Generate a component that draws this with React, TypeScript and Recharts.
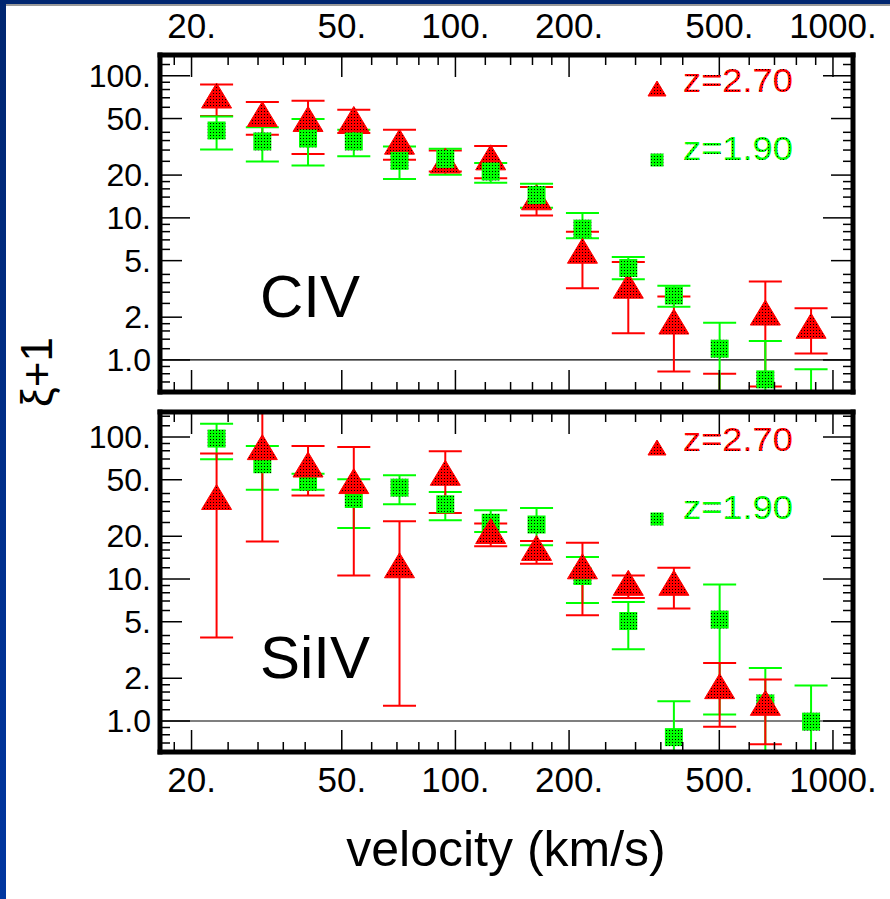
import React from 'react';
import { ScatterChart, Scatter, XAxis, YAxis, ReferenceLine } from 'recharts';

// velocity bins (km/s)
const velocity = [23.3, 30.8, 40.7, 53.8, 71.1, 94.0, 124, 164, 217, 287, 379, 501, 662, 875];

// CIV, z=2.70
const civHiZ = [69.7, 51.7, 47.7, 47.7, 33.0, 24.3, 25.6, 13.4, 5.64, 3.2, 1.79, 0.4, 2.07, 1.67];
const civHiZLo = [52, 38.4, 28.2, 39.5, 25.6, 21.2, 19.0, 10.4, 3.2, 1.54, 0.83, 0.3, 0.65, 1.11];
const civHiZHi = [86.9, 65.3, 66.7, 57.6, 41.7, 29.8, 32.1, 16.5, 8.0, 4.9, 2.8, 0.8, 3.56, 2.31];
// CIV, z=1.90
const civLoZ = [41.2, 34.5, 36.2, 34.5, 25.2, 26.0, 21.2, 14.5, 8.4, 4.44, 2.84, 1.2, 0.73, 0.45];
const civLoZLo = [30.3, 24.9, 23.4, 27.1, 18.8, 20.1, 17.7, 11.8, 7.2, 3.7, 2.37, 0.3, 0.3, 0.3];
const civLoZHi = [51.7, 43.5, 49.6, 41.7, 31.8, 30.6, 24.3, 17.4, 10.8, 5.3, 3.33, 1.83, 1.36, 0.86];

// SiIV, z=2.70
const siHiZ = [36.3, 81.5, 61.5, 47.0, 12.0, 53.8, 20.9, 15.9, 11.8, 9.03, 9.03, 1.69, 1.29, null];
const siHiZLo = [3.87, 18.4, 38.8, 10.6, 1.28, 29.2, 17.0, 12.8, 5.55, 7.35, 6.19, 0.91, 0.685, null];
const siHiZHi = [76.4, 200, 86.4, 85.0, 25.5, 79.3, 24.6, 18.5, 18.0, 10.6, 12.0, 2.56, 1.96, null];
// SiIV, z=1.90
const siLoZ = [97.5, 64.3, 48.5, 36.6, 44.0, 33.6, 24.9, 24.2, 10.5, 5.06, 0.77, 5.18, 1.33, 0.99];
const siLoZLo = [69.7, 42.6, 42.6, 22.9, 33.6, 25.9, 21.4, 17.3, 6.78, 3.2, 0.3, 1.11, 0.3, 0.3];
const siLoZHi = [124, 86.4, 55.2, 50.4, 53.8, 41.0, 30.5, 31.6, 14.3, 6.89, 1.38, 9.13, 2.36, 1.78];

const xTicks = [18, 20, 25, 30, 35, 40, 50, 60, 70, 80, 90, 100, 120, 140, 160, 180, 200, 250, 300, 350, 400, 500, 600, 700, 800, 900, 1000];
const xLabels = [20, 50, 100, 200, 500, 1000];
const yTicks = [0.6, 0.7, 0.8, 0.9, 1, 1.2, 1.4, 1.6, 1.8, 2, 2.5, 3, 3.5, 4, 5, 6, 7, 8, 9, 10, 12, 14, 16, 18, 20, 25, 30, 35, 40, 50, 60, 70, 80, 90, 100, 120, 140];
const yLabels = [1, 2, 5, 10, 20, 50, 100];
const yMajor = [1, 10, 100];

const RED = '#ff0000';
const GREEN = '#00ff00';
const FONT = '"Liberation Sans", Arial, Helvetica, sans-serif';
const CAP = 1.106; // cap half-width as a velocity factor (~16px on this log axis)

function rows(ys: (number | null)[], los: (number | null)[], his: (number | null)[]) {
  return velocity
    .map((v, i) => ({ v, y: ys[i], lo: los[i], hi: his[i] }))
    .filter(d => d.y != null) as { v: number; y: number; lo: number; hi: number }[];
}

const Triangle = (p: any) => {
  const { cx, cy } = p;
  return (
    <polygon
      points={`${cx},${cy - 15} ${cx - 15},${cy + 10} ${cx + 15},${cy + 10}`}
      fill="url(#redDots)"
      stroke={RED}
      strokeWidth={1}
    />
  );
};

const Square = (p: any) => {
  const { cx, cy } = p;
  return <rect x={cx - 9} y={cy - 9} width={18} height={18} fill="url(#greenDots)" />;
};

const xTick = (side: 'top' | 'bottom', showLabel: boolean) => (p: any) => {
  const { x, y, payload } = p;
  const v = payload.value;
  const major = xLabels.includes(v);
  const len = major ? 22 : 10;
  const dir = side === 'top' ? 1 : -1;
  return (
    <g>
      <line x1={x} x2={x} y1={y} y2={y + dir * len} stroke="#000" strokeWidth={1.5} />
      {showLabel && major && (
        <text x={x} y={side === 'top' ? y - 17 : y + 40} textAnchor="middle" fontSize={35} fontFamily={FONT} fill="#000">
          {v}.
        </text>
      )}
    </g>
  );
};

const fmtY = (v: number) => (v === 1 ? '1.0' : `${v}.`);

const yTick = (side: 'left' | 'right') => (p: any) => {
  const { x, y, payload } = p;
  const v = payload.value;
  const len = yMajor.includes(v) ? 30 : yLabels.includes(v) ? 22 : 10;
  const dir = side === 'left' ? 1 : -1;
  return (
    <g>
      <line x1={x} x2={x + dir * len} y1={y} y2={y} stroke="#000" strokeWidth={1.5} />
      {side === 'left' && yLabels.includes(v) && (
        <text x={x - 9} y={y + 11} textAnchor="end" fontSize={32} fontFamily={FONT} fill="#000">
          {fmtY(v)}
        </text>
      )}
    </g>
  );
};

const frame = { stroke: '#000', strokeWidth: 5, strokeLinecap: 'square' as const };

function errorLines(data: { v: number; lo: number; hi: number }[], color: string, key: string) {
  const common = { xAxisId: 'b', yAxisId: 'l', stroke: color, strokeWidth: 2, ifOverflow: 'hidden' as const };
  return data.flatMap((d, i) => [
    <ReferenceLine key={`${key}-v${i}`} {...common} segment={[{ x: d.v, y: d.lo }, { x: d.v, y: d.hi }]} />,
    <ReferenceLine key={`${key}-l${i}`} {...common} segment={[{ x: d.v / CAP, y: d.lo }, { x: d.v * CAP, y: d.lo }]} />,
    <ReferenceLine key={`${key}-h${i}`} {...common} segment={[{ x: d.v / CAP, y: d.hi }, { x: d.v * CAP, y: d.hi }]} />,
  ]);
}

function Panel({
  height, margin, yDomain, topLabels, series,
}: {
  height: number;
  margin: any;
  yDomain: [number, number];
  topLabels: boolean;
  series: { data: any[]; kind: 'tri' | 'sq' }[];
}) {
  const ticks = yTicks.filter(t => t >= yDomain[0] && t <= yDomain[1]);
  return (
    <ScatterChart width={890} height={height} margin={margin}>
      <XAxis
        xAxisId="b" dataKey="v" type="number" scale="log" domain={[16.5, 1130]} allowDataOverflow
        orientation="bottom" height={1} ticks={xTicks} interval={0} tickSize={0} tickMargin={0}
        tickLine={false} axisLine={frame} tick={xTick('bottom', !topLabels)}
      />
      <XAxis
        xAxisId="t" dataKey="v" type="number" scale="log" domain={[16.5, 1130]} allowDataOverflow
        orientation="top" height={1} ticks={xTicks} interval={0} tickSize={0} tickMargin={0}
        tickLine={false} axisLine={frame} tick={xTick('top', topLabels)}
      />
      <YAxis
        yAxisId="l" dataKey="y" type="number" scale="log" domain={yDomain} allowDataOverflow
        orientation="left" width={1} ticks={ticks} interval={0} tickSize={0} tickMargin={0}
        tickLine={false} axisLine={frame} tick={yTick('left')}
      />
      <YAxis
        yAxisId="r" dataKey="y" type="number" scale="log" domain={yDomain} allowDataOverflow
        orientation="right" width={1} ticks={ticks} interval={0} tickSize={0} tickMargin={0}
        tickLine={false} axisLine={frame} tick={yTick('right')}
      />
      <ReferenceLine xAxisId="b" yAxisId="l" y={1} stroke="#000" strokeWidth={1.2} />
      {series.flatMap((s, i) => errorLines(s.data, s.kind === 'tri' ? RED : GREEN, `e${i}`))}
      {series.map((s, i) => (
        <Scatter
          key={i}
          xAxisId="b"
          yAxisId="l"
          data={s.data}
          dataKey="y"
          shape={s.kind === 'tri' ? Triangle : Square}
          isAnimationActive={false}
        />
      ))}
    </ScatterChart>
  );
}

function LegendBlock({ dy }: { dy: number }) {
  return (
    <g>
      <polygon points={`657,${81 + dy} 648,${96 + dy} 666,${96 + dy}`} fill="url(#redDots)" stroke={RED} strokeWidth={1} />
      <text x={683} y={92 + dy} fontSize={34} fontFamily={FONT} fill="url(#redDots)" textLength={110} lengthAdjust="spacingAndGlyphs">
        z=2.70
      </text>
      <rect x={650.5} y={153.5 + dy} width={13} height={13} fill="url(#greenDots)" />
      <text x={683} y={160 + dy} fontSize={34} fontFamily={FONT} fill="url(#greenDots)" textLength={110} lengthAdjust="spacingAndGlyphs">
        z=1.90
      </text>
    </g>
  );
}

export default function App() {
  const civRed = rows(civHiZ, civHiZLo, civHiZHi);
  const civGreen = rows(civLoZ, civLoZLo, civLoZHi);
  const siRed = rows(siHiZ, siHiZLo, siHiZHi);
  const siGreen = rows(siLoZ, siLoZLo, siLoZHi);

  return (
    <div style={{ position: 'absolute', left: 0, top: 0, width: 890, height: 899, background: '#fff', overflow: 'hidden' }}>
      <svg width={0} height={0} style={{ position: 'absolute' }}>
        <defs>
          <pattern id="redDots" width={3} height={3} patternUnits="userSpaceOnUse">
            <rect width={3} height={3} fill={RED} />
            <rect width={1} height={1} fill="#000" />
          </pattern>
          <pattern id="greenDots" width={3} height={3} patternUnits="userSpaceOnUse">
            <rect width={3} height={3} fill={GREEN} />
            <rect width={1} height={1} fill="#000" />
          </pattern>
        </defs>
      </svg>

      <div style={{ position: 'absolute', left: 0, top: 0 }}>
        <Panel
          height={400}
          margin={{ top: 54, right: 36, bottom: 7, left: 159 }}
          yDomain={[0.595, 140]}
          topLabels
          series={[{ data: civRed, kind: 'tri' }, { data: civGreen, kind: 'sq' }]}
        />
      </div>
      <div style={{ position: 'absolute', left: 0, top: 400 }}>
        <Panel
          height={499}
          margin={{ top: 11, right: 36, bottom: 146, left: 159 }}
          yDomain={[0.605, 150]}
          topLabels={false}
          series={[{ data: siGreen, kind: 'sq' }, { data: siRed, kind: 'tri' }]}
        />
      </div>

      <svg width={890} height={899} style={{ position: 'absolute', left: 0, top: 0, pointerEvents: 'none' }}>
        <LegendBlock dy={0} />
        <LegendBlock dy={359} />
        <text x={260} y={317} fontSize={60} fontFamily={FONT} fill="#000">CIV</text>
        <text x={260} y={678} fontSize={60} fontFamily={FONT} fill="#000">SiIV</text>
        <text x={52} y={372} fontSize={44} fontFamily={FONT} fill="#000" textAnchor="middle" transform="rotate(-90 52 372)">
          ξ+1
        </text>
        <text x={506} y={866} fontSize={50} fontFamily={FONT} fill="#000" textAnchor="middle">
          velocity (km/s)
        </text>
      </svg>

      <div style={{ position: 'absolute', left: 0, top: 0, width: 890, height: 4, background: '#002670' }} />
      <div style={{ position: 'absolute', left: 0, top: 4, width: 890, height: 1.5, background: '#9a9a9a' }} />
      <div style={{ position: 'absolute', left: 0, top: 0, width: 6, height: 899, background: 'linear-gradient(#002670, #0036a0)' }} />
    </div>
  );
}
